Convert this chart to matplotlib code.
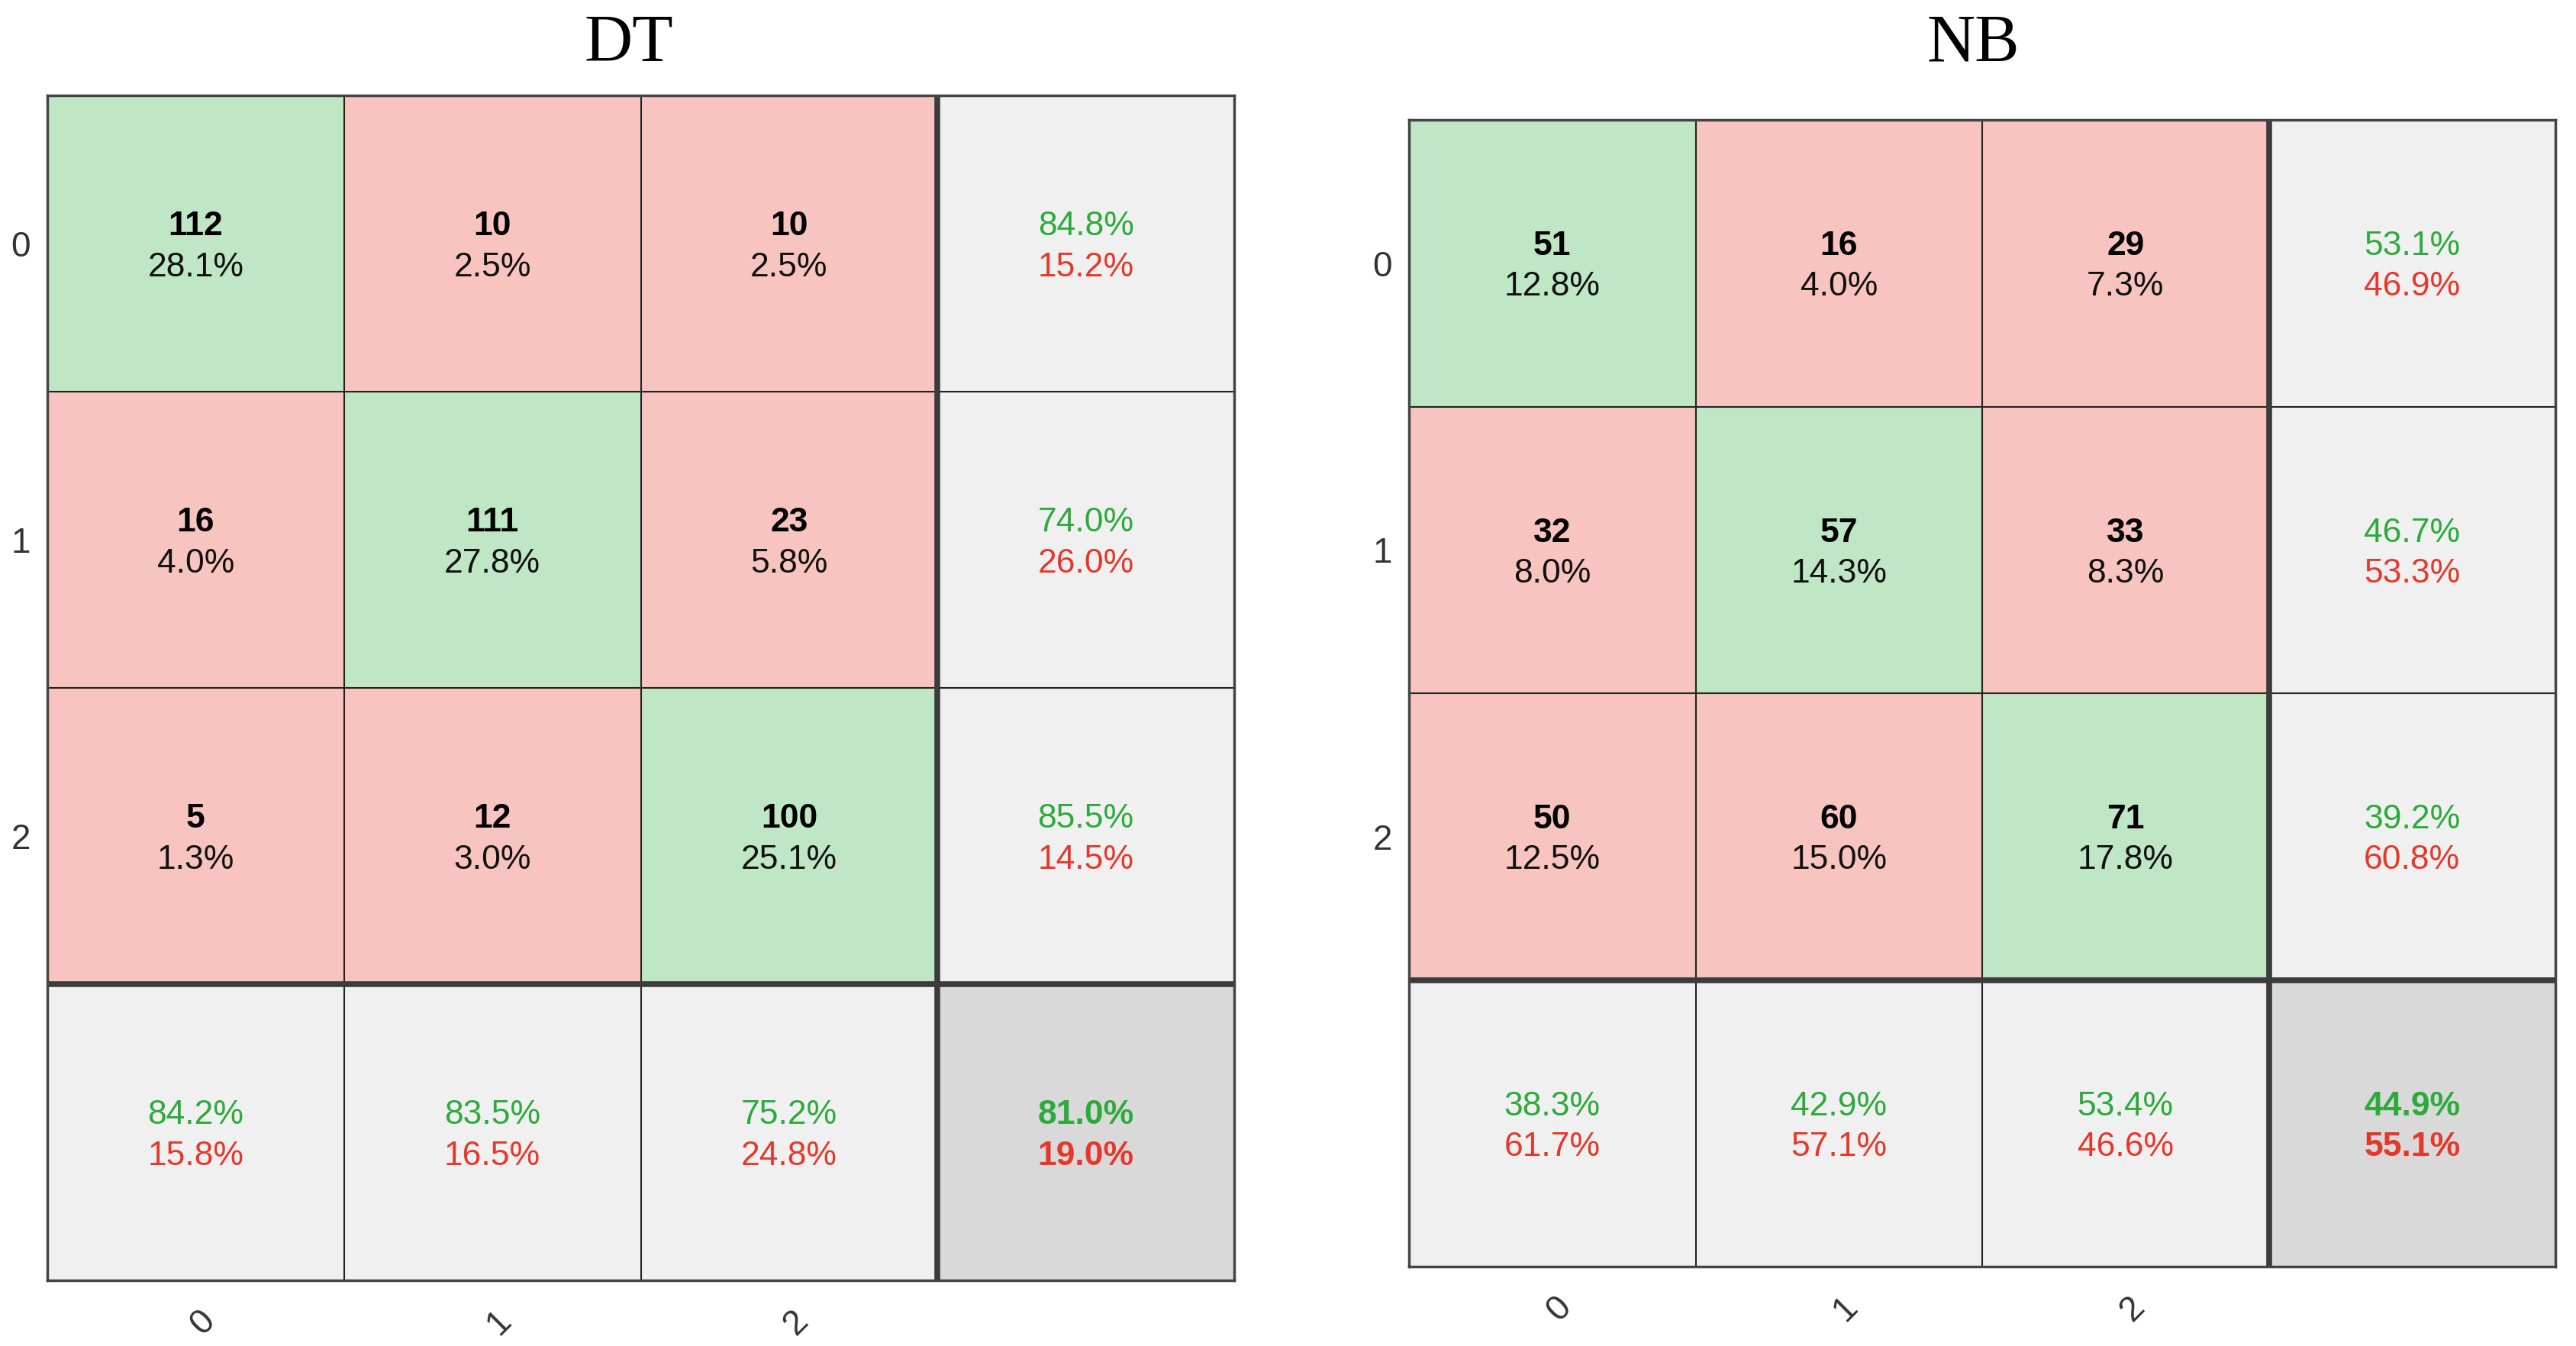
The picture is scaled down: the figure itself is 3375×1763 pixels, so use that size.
import numpy as np
import matplotlib.pyplot as plt
from matplotlib.transforms import ScaledTranslation

# confusion matrices (rows = true class, cols = predicted)
classes = ["0", "1", "2"]
dt_counts = [[112, 10, 10],
             [16, 111, 23],
             [5, 12, 100]]
nb_counts = [[51, 16, 29],
             [32, 57, 33],
             [50, 60, 71]]

green_bg = "#BFE6C5"
red_bg = "#F8C4C0"
grey_bg = "#F0F0F0"
dark_bg = "#D9D9D9"
green_txt = "#2DAA3C"
red_txt = "#E5382B"
plt.rcParams['font.family'] = ['Liberation Sans', 'DejaVu Sans']
FS = 32


def conf_plot(ax, counts):
    cm = np.array(counts, dtype=float)
    n = cm.shape[0]
    total = cm.sum()
    # background colours
    rgb = np.zeros((n + 1, n + 1, 3))
    for i in range(n + 1):
        for j in range(n + 1):
            if i == n and j == n:
                c = dark_bg
            elif i == n or j == n:
                c = grey_bg
            elif i == j:
                c = green_bg
            else:
                c = red_bg
            rgb[i, j] = plt.matplotlib.colors.to_rgb(c)
    ax.imshow(rgb, extent=(-0.5, n + 0.5, n + 0.5, -0.5), aspect='auto')

    d = 0.07
    s = 0.012
    for i in range(n):
        for j in range(n):
            ax.text(j, i - d + s, "%d" % cm[i, j], ha='center', va='center',
                    fontsize=FS, fontweight='bold', color='black')
            ax.text(j, i + d + s, "%.1f%%" % (100 * cm[i, j] / total), ha='center',
                    va='center', fontsize=FS, color='#111111')
    # row summaries (recall)
    for i in range(n):
        r = cm[i, i] / cm[i].sum()
        ax.text(n, i - d + s, "%.1f%%" % (100 * r), ha='center', va='center', fontsize=FS, color=green_txt)
        ax.text(n, i + d + s, "%.1f%%" % (100 - 100 * r), ha='center', va='center', fontsize=FS, color=red_txt)
    # column summaries (precision)
    for j in range(n):
        p = cm[j, j] / cm[:, j].sum()
        ax.text(j, n - d + s, "%.1f%%" % (100 * p), ha='center', va='center', fontsize=FS, color=green_txt)
        ax.text(j, n + d + s, "%.1f%%" % (100 - 100 * p), ha='center', va='center', fontsize=FS, color=red_txt)
    acc = np.trace(cm) / total
    ax.text(n, n - d + s, "%.1f%%" % (100 * acc), ha='center', va='center', fontsize=FS,
            fontweight='bold', color=green_txt)
    ax.text(n, n + d + s, "%.1f%%" % (100 - 100 * acc), ha='center', va='center', fontsize=FS,
            fontweight='bold', color=red_txt)

    # grid lines
    for k in range(1, n + 1):
        lw = 5.5 if k == n else 1.5
        col = '#3c3c3c' if k == n else '#222222'
        ax.axvline(k - 0.5, color=col, lw=lw)
        ax.axhline(k - 0.5, color=col, lw=lw)
    for sp in ax.spines.values():
        sp.set_linewidth(2.5)
        sp.set_color('#444444')

    ax.set_xlim(-0.5, n + 0.5)
    ax.set_ylim(n + 0.5, -0.5)
    ax.set_xticks(range(n))
    ax.set_xticklabels(classes, rotation=45, fontsize=FS + 1, color='#333333')
    ax.set_yticks(range(n))
    ax.set_yticklabels(classes, fontsize=FS + 1, color='#333333')
    ax.tick_params(length=0, pad=16)
    ax.tick_params(axis='x', pad=22)
    shift = ScaledTranslation(0.09, 0, ax.figure.dpi_scale_trans)
    for lab in ax.get_xticklabels():
        lab.set_transform(lab.get_transform() + shift)


fig = plt.figure(figsize=(33.75, 17.63), dpi=100)
ax1 = fig.add_axes([62 / 3375, 1 - 1677 / 1763, 1555 / 3375, 1552 / 1763])
ax2 = fig.add_axes([1846 / 3375, 1 - 1659 / 1763, 1502 / 3375, 1502 / 1763])
conf_plot(ax1, dt_counts)
conf_plot(ax2, nb_counts)
fig.text(824 / 3375, 1 - 58 / 1763, "DT", ha='center', va='center', fontsize=63,
         family='Liberation Serif')
fig.text(2585 / 3375, 1 - 58 / 1763, "NB", ha='center', va='center', fontsize=63,
         family='Liberation Serif')
fig.savefig("out.png", dpi=100)
